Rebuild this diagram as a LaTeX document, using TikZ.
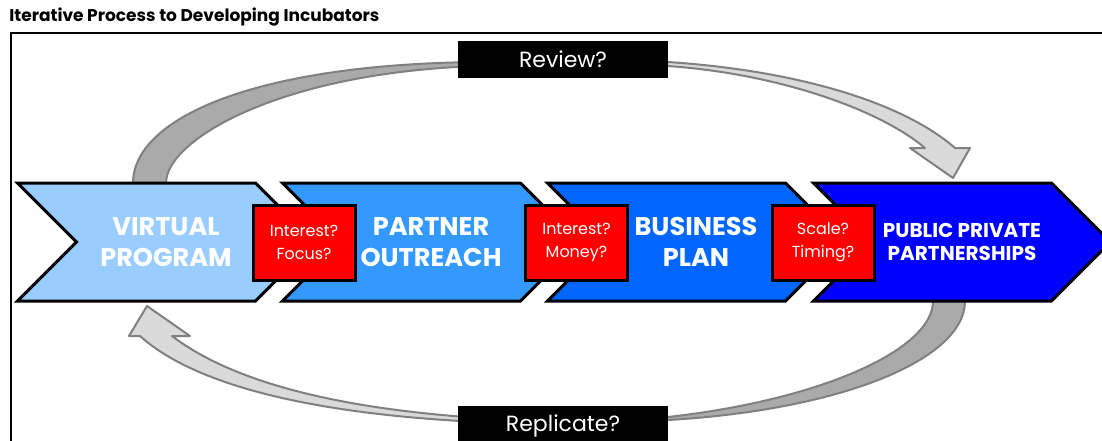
\documentclass[tikz,border=0pt]{standalone}
\usepackage{fontspec}
\setmainfont{Poppins}
\usetikzlibrary{shapes.symbols}
\definecolor{StageA}{RGB}{153,204,255}
\definecolor{StageB}{RGB}{51,153,255}
\definecolor{StageC}{RGB}{0,102,255}
\definecolor{StageD}{RGB}{0,0,255}
\definecolor{ArcDark}{RGB}{170,170,170}
\definecolor{ArcLight}{RGB}{218,218,218}
\definecolor{ArcLine}{RGB}{128,128,128}

\begin{document}
\begin{tikzpicture}[x=0.5pt,y=-0.5pt]
				\tikzstyle{stage}=[draw=black, line width=1.5pt, shape=signal, signal to=east, signal from=west, signal pointer angle=90, minimum width=148.5pt, minimum height=59pt, inner sep=0pt, text=white, align=center, font=\bfseries\fontsize{12.8}{15.5}\selectfont];
				\tikzstyle{question}=[draw=black, line width=1.5pt, fill=red, minimum width=51pt, minimum height=37.5pt, inner sep=0pt, text=white, align=center, font=\fontsize{8}{11.5}\selectfont];
				\tikzstyle{tag}=[fill=black, minimum width=105pt, minimum height=18.5pt, inner sep=0pt, text=white, font=\fontsize{11}{12}\selectfont];
				\tikzstyle{backarc}=[fill=ArcDark, draw=ArcLine, line width=1pt, line join=round];
				\tikzstyle{frontarc}=[fill=ArcLight, draw=ArcLine, line width=1pt, line join=round];
				\useasboundingbox (0,0) rectangle (1102,440);
				\node [anchor=west, inner sep=0pt, font=\bfseries\fontsize{8.5}{10}\selectfont] (title) at (9,17) {Iterative Process to Developing Incubators};
				\draw [line width=1pt] (11,460) |- (1120,33);
				% loop arrows
				\draw [backarc] (133,183) .. controls (133,120) and (250,64) .. (480,62) -- (480,66) .. controls (280,72) and (166,140) .. (166,183) -- cycle;
				\draw [frontarc] (640,62) -- (668,62) .. controls (790,70) and (900,100) .. (955,148) -- (970,148) -- (953,178) -- (910,148) -- (925,148) .. controls (880,110) and (780,74) .. (668,66) -- (640,66) -- cycle;
				\draw [backarc] (965,301) .. controls (965,360) and (840,410) .. (668,420) -- (640,421) -- (640,417) -- (668,417) .. controls (820,400) and (933,350) .. (933,301) -- cycle;
				\draw [frontarc] (480,422) .. controls (330,415) and (200,390) .. (140,336) -- (129,336) -- (147,306) -- (190,336) -- (172,336) .. controls (230,380) and (330,408) .. (480,418) -- cycle;
				% stages
				\node [stage, fill=StageA] (s1) at (166,242) {VIRTUAL\\PROGRAM};
				\node [stage, fill=StageB] (s2) at (431,242) {PARTNER\\OUTREACH};
				\node [stage, fill=StageC] (s3) at (696,242) {BUSINESS\\PLAN};
				\node [stage, fill=StageD, font=\bfseries\fontsize{10}{11.5}\selectfont] (s4) at (962,242) {PUBLIC PRIVATE\\PARTNERSHIPS};
				\node [question] (q1) at (304,242.5) {Interest?\\Focus?};
				\node [question] (q2) at (576.5,242.5) {Interest?\\Money?};
				\node [question] (q3) at (823,242.5) {Scale?\\Timing?};
				\node [tag] (rev) at (563,59.5) {Review?};
				\node [tag, minimum height=20pt] (rep) at (563,426) {Replicate?};
			\end{tikzpicture}
\end{document}
